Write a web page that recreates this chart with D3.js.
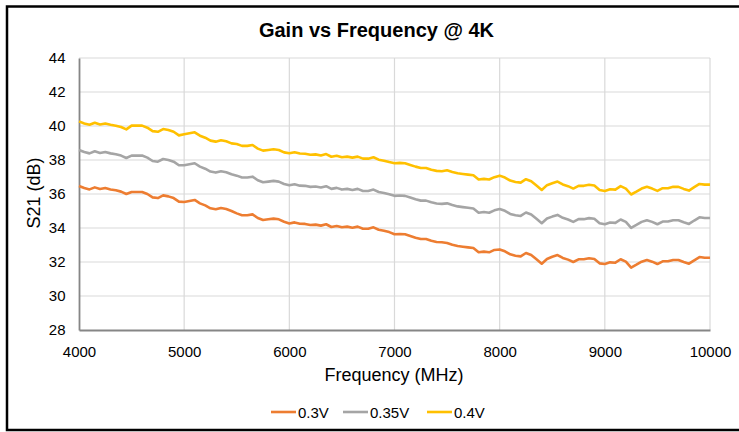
<!DOCTYPE html>
<html>
<head>
<meta charset="utf-8">
<script src="https://cdn.jsdelivr.net/npm/d3@7"></script>
<style>
  body { margin: 0; background: #fff; }
  svg text { font-family: "Liberation Sans", Arial, sans-serif; fill: #000; }
</style>
</head>
<body>
<div id="chart"></div>
<script>
// frequency points (MHz)
const freqs = [4000, 4050, 4100, 4150, 4200, 4250, 4300, 4350, 4400, 4450,
  4500, 4550, 4600, 4650, 4700, 4750, 4800, 4850, 4900, 4950,
  5000, 5050, 5100, 5150, 5200, 5250, 5300, 5350, 5400, 5450,
  5500, 5550, 5600, 5650, 5700, 5750, 5800, 5850, 5900, 5950,
  6000, 6050, 6100, 6150, 6200, 6250, 6300, 6350, 6400, 6450,
  6500, 6550, 6600, 6650, 6700, 6750, 6800, 6850, 6900, 6950,
  7000, 7050, 7100, 7150, 7200, 7250, 7300, 7350, 7400, 7450,
  7500, 7550, 7600, 7650, 7700, 7750, 7800, 7850, 7900, 7950,
  8000, 8050, 8100, 8150, 8200, 8250, 8300, 8350, 8400, 8450,
  8500, 8550, 8600, 8650, 8700, 8750, 8800, 8850, 8900, 8950,
  9000, 9050, 9100, 9150, 9200, 9250, 9300, 9350, 9400, 9450,
  9500, 9550, 9600, 9650, 9700, 9750, 9800, 9850, 9900, 9950, 10000];

// S21 (dB) per bias
const s21_03V = [36.47, 36.35, 36.27, 36.39, 36.29, 36.35, 36.27, 36.22, 36.14, 36.00,
  36.12, 36.12, 36.12, 36.00, 35.80, 35.76, 35.92, 35.86, 35.76, 35.55,
  35.53, 35.59, 35.65, 35.45, 35.33, 35.16, 35.10, 35.18, 35.12, 35.00,
  34.86, 34.75, 34.75, 34.80, 34.59, 34.47, 34.51, 34.55, 34.51, 34.37,
  34.27, 34.33, 34.25, 34.24, 34.18, 34.20, 34.14, 34.22, 34.06, 34.12,
  34.04, 34.08, 34.02, 34.08, 33.96, 33.96, 34.04, 33.90, 33.84, 33.76,
  33.63, 33.65, 33.63, 33.53, 33.43, 33.35, 33.35, 33.25, 33.18, 33.16,
  33.12, 33.02, 32.94, 32.90, 32.86, 32.82, 32.57, 32.61, 32.57, 32.71,
  32.74, 32.63, 32.45, 32.37, 32.33, 32.53, 32.41, 32.16, 31.90, 32.18,
  32.31, 32.41, 32.24, 32.14, 32.00, 32.16, 32.16, 32.22, 32.18, 31.92,
  31.88, 31.98, 31.96, 32.16, 32.02, 31.67, 31.84, 32.02, 32.12, 32.02,
  31.88, 32.04, 32.04, 32.12, 32.12, 32.00, 31.90, 32.10, 32.29, 32.25, 32.25];

const s21_035V = [38.59, 38.47, 38.39, 38.51, 38.41, 38.47, 38.39, 38.34, 38.26, 38.12,
  38.26, 38.26, 38.26, 38.14, 37.94, 37.90, 38.06, 38.00, 37.90, 37.69,
  37.69, 37.75, 37.81, 37.61, 37.49, 37.32, 37.26, 37.34, 37.28, 37.16,
  37.08, 36.97, 36.97, 37.02, 36.81, 36.69, 36.73, 36.77, 36.73, 36.59,
  36.51, 36.57, 36.49, 36.48, 36.42, 36.44, 36.38, 36.46, 36.30, 36.36,
  36.26, 36.30, 36.24, 36.30, 36.18, 36.18, 36.26, 36.12, 36.06, 35.98,
  35.89, 35.91, 35.89, 35.79, 35.69, 35.61, 35.61, 35.51, 35.44, 35.42,
  35.45, 35.35, 35.27, 35.23, 35.19, 35.15, 34.90, 34.94, 34.90, 35.04,
  35.12, 35.01, 34.83, 34.75, 34.71, 34.91, 34.79, 34.54, 34.28, 34.56,
  34.67, 34.77, 34.60, 34.50, 34.36, 34.52, 34.52, 34.58, 34.54, 34.28,
  34.22, 34.32, 34.30, 34.50, 34.36, 34.01, 34.18, 34.36, 34.46, 34.36,
  34.22, 34.38, 34.38, 34.46, 34.46, 34.34, 34.24, 34.44, 34.63, 34.59, 34.59];

const s21_04V = [40.27, 40.15, 40.07, 40.19, 40.09, 40.15, 40.07, 40.02, 39.94, 39.80,
  40.02, 40.02, 40.02, 39.90, 39.70, 39.66, 39.82, 39.76, 39.66, 39.45,
  39.51, 39.57, 39.63, 39.43, 39.31, 39.14, 39.08, 39.16, 39.10, 38.98,
  38.94, 38.83, 38.83, 38.88, 38.67, 38.55, 38.59, 38.63, 38.59, 38.45,
  38.40, 38.46, 38.38, 38.37, 38.31, 38.33, 38.27, 38.35, 38.19, 38.25,
  38.16, 38.20, 38.14, 38.20, 38.08, 38.08, 38.16, 38.02, 37.96, 37.88,
  37.81, 37.83, 37.81, 37.71, 37.61, 37.53, 37.53, 37.43, 37.36, 37.34,
  37.40, 37.30, 37.22, 37.18, 37.14, 37.10, 36.85, 36.89, 36.85, 36.99,
  37.08, 36.97, 36.79, 36.71, 36.67, 36.87, 36.75, 36.50, 36.24, 36.52,
  36.63, 36.73, 36.56, 36.46, 36.32, 36.48, 36.48, 36.54, 36.50, 36.24,
  36.18, 36.28, 36.26, 36.46, 36.32, 35.97, 36.14, 36.32, 36.42, 36.32,
  36.18, 36.34, 36.34, 36.42, 36.42, 36.30, 36.20, 36.40, 36.59, 36.55, 36.55];

const seriesNames = ["0.3V", "0.35V", "0.4V"];
const seriesColors = ["#ED7D31", "#A5A5A5", "#FFC000"];
const xTicks = [4000, 5000, 6000, 7000, 8000, 9000, 10000];
const yTicks = [28, 30, 32, 34, 36, 38, 40, 42, 44];

function drawChart() {
  const width = 739;
  const height = 432;
  const margin = { top: 58, right: 29, bottom: 102, left: 79 };
  const plotW = width - margin.left - margin.right;
  const plotH = height - margin.top - margin.bottom;

  const svg = d3.select("#chart")
    .append("svg")
    .attr("width", width)
    .attr("height", height);

  svg.append("rect")
    .attr("width", width).attr("height", height)
    .attr("fill", "#fff");

  // outer frame (right side runs off the picture)
  svg.append("rect")
    .attr("x", 7).attr("y", 6.5)
    .attr("width", 800).attr("height", 423.5)
    .attr("fill", "none")
    .attr("stroke", "#000")
    .attr("stroke-width", 2.5);

  svg.append("text")
    .attr("x", 376.5).attr("y", 36.5)
    .attr("text-anchor", "middle")
    .style("font-size", "20px")
    .style("font-weight", "bold")
    .text("Gain vs Frequency @ 4K");

  const g = svg.append("g")
    .attr("transform", `translate(${margin.left},${margin.top})`);

  const x = d3.scaleLinear().domain([4000, 10000]).range([0, plotW]);
  const y = d3.scaleLinear().domain([28, 44]).range([plotH, 0]);

  // gridlines
  g.append("g")
    .selectAll("line")
    .data(yTicks.slice(1))
    .join("line")
    .attr("x1", 0).attr("x2", plotW)
    .attr("y1", d => y(d)).attr("y2", d => y(d))
    .attr("stroke", "#d9d9d9").attr("stroke-width", 1.2);

  g.append("g")
    .selectAll("line")
    .data(xTicks.slice(1))
    .join("line")
    .attr("x1", d => x(d)).attr("x2", d => x(d))
    .attr("y1", 0).attr("y2", plotH)
    .attr("stroke", "#d9d9d9").attr("stroke-width", 1.2);

  // axes
  const xAxis = g.append("g")
    .attr("transform", `translate(0,${plotH})`)
    .call(d3.axisBottom(x).tickValues(xTicks).tickSize(0).tickPadding(16).tickFormat(d3.format("d")));
  const yAxis = g.append("g")
    .call(d3.axisLeft(y).tickValues(yTicks).tickSize(0).tickPadding(13.5));

  [xAxis, yAxis].forEach(a => {
    a.select(".domain").attr("stroke", "#868686").attr("stroke-width", 1.8);
    a.selectAll("text").style("font-size", "15px").attr("fill", "#000");
  });

  svg.append("text")
    .attr("x", 394).attr("y", 381)
    .attr("text-anchor", "middle")
    .style("font-size", "18px")
    .text("Frequency (MHz)");

  svg.append("text")
    .attr("transform", "translate(40,193) rotate(-90)")
    .attr("text-anchor", "middle")
    .style("font-size", "18px")
    .text("S21 (dB)");

  // series
  const allSeries = [s21_03V, s21_035V, s21_04V];
  const line = d3.line()
    .x((d, i) => x(freqs[i]))
    .y(d => y(d));

  g.append("g")
    .selectAll("path")
    .data(allSeries)
    .join("path")
    .attr("d", d => line(d))
    .attr("fill", "none")
    .attr("stroke", (d, i) => seriesColors[i])
    .attr("stroke-width", 2.6)
    .attr("stroke-linejoin", "round");

  // legend
  const legendX = [271, 343, 427];
  const legend = svg.append("g")
    .selectAll("g")
    .data(seriesNames)
    .join("g")
    .attr("transform", (d, i) => `translate(${legendX[i]},412)`);

  legend.append("line")
    .attr("x1", 0).attr("x2", 25)
    .attr("stroke", (d, i) => seriesColors[i])
    .attr("stroke-width", 2.6);

  legend.append("text")
    .attr("x", 27).attr("y", 5.5)
    .style("font-size", "15px")
    .text(d => d);
}

drawChart();
</script>
</body>
</html>
